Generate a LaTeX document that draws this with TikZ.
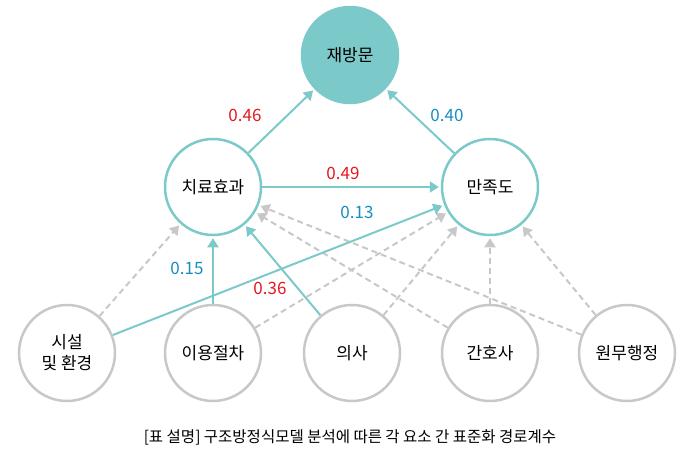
\documentclass[tikz,border=0pt]{standalone}
\usepackage{fontspec}
\setmainfont{Noto Sans CJK KR}
\usetikzlibrary{arrows.meta}
\definecolor{teal1}{HTML}{7CC9C9}
\definecolor{gray1}{HTML}{C8C8C8}
\definecolor{red1}{HTML}{E5171F}
\definecolor{blue1}{HTML}{168FBF}
\begin{document}
\begin{tikzpicture}[x=1pt,y=-1pt, thick,
  main/.style={circle, line width=2.5pt, draw=teal1, fill=white, minimum size=96pt, inner sep=0pt, font=\fontsize{17}{21}\selectfont},
  top/.style={main, fill=teal1},
  sub/.style={main, draw=gray1, line width=2.5pt, align=center},
  ar/.style={-{Triangle[length=9pt,width=11pt]}, line width=2pt, draw=teal1, shorten >=2pt},
  dar/.style={-{Triangle[length=9pt,width=11pt]}, line width=2pt, draw=gray1, dashed, dash pattern=on 6pt off 4pt, shorten >=2pt},
  wt/.style={font=\fontsize{17}{20}\selectfont}]
  \useasboundingbox (0,0) rectangle (700,450);
  \node[top] (rev) at (350,55) {재방문};
  \node[main] (cure) at (213,187) {치료효과};
  \node[main] (sat) at (490,187) {만족도};
  \node[sub] (fac) at (67,353) {시설\\및 환경};
  \node[sub] (proc) at (213,353) {이용절차};
  \node[sub] (doc) at (352,353) {의사};
  \node[sub] (nur) at (490,353) {간호사};
  \node[sub] (adm) at (627,353) {원무행정};
  % dashed paths
  \draw[dar] (fac) -- (cure);
  \draw[dar] (proc) -- (sat);
  \draw[dar] (doc) -- (sat);
  \draw[dar] (nur) -- (cure);
  \draw[dar] (nur) -- (sat);
  \draw[dar] (adm) -- (cure);
  \draw[dar] (adm) -- (sat);
  % solid paths
  \draw[ar] (cure) -- (rev);
  \draw[ar] (sat) -- (rev);
  \draw[ar] (cure) -- (sat);
  \draw[ar] (fac) -- (sat);
  \draw[ar] (proc) -- (cure);
  \draw[ar] (doc) -- (cure);
  \node[wt, text=red1] (w1) at (245,115) {0.46};
  \node[wt, text=blue1] (w2) at (447,115) {0.40};
  \node[wt, text=red1] (w3) at (343,173) {0.49};
  \node[wt, text=blue1] (w4) at (357,212) {0.13};
  \node[wt, text=blue1] (w5) at (187,268) {0.15};
  \node[wt, text=red1] (w6) at (270,288) {0.36};
  \node[font=\fontsize{15.5}{18}\selectfont] (cap) at (350,437) {[표 설명] 구조방정식모델 분석에 따른 각 요소 간 표준화 경로계수};
\end{tikzpicture}
\end{document}
